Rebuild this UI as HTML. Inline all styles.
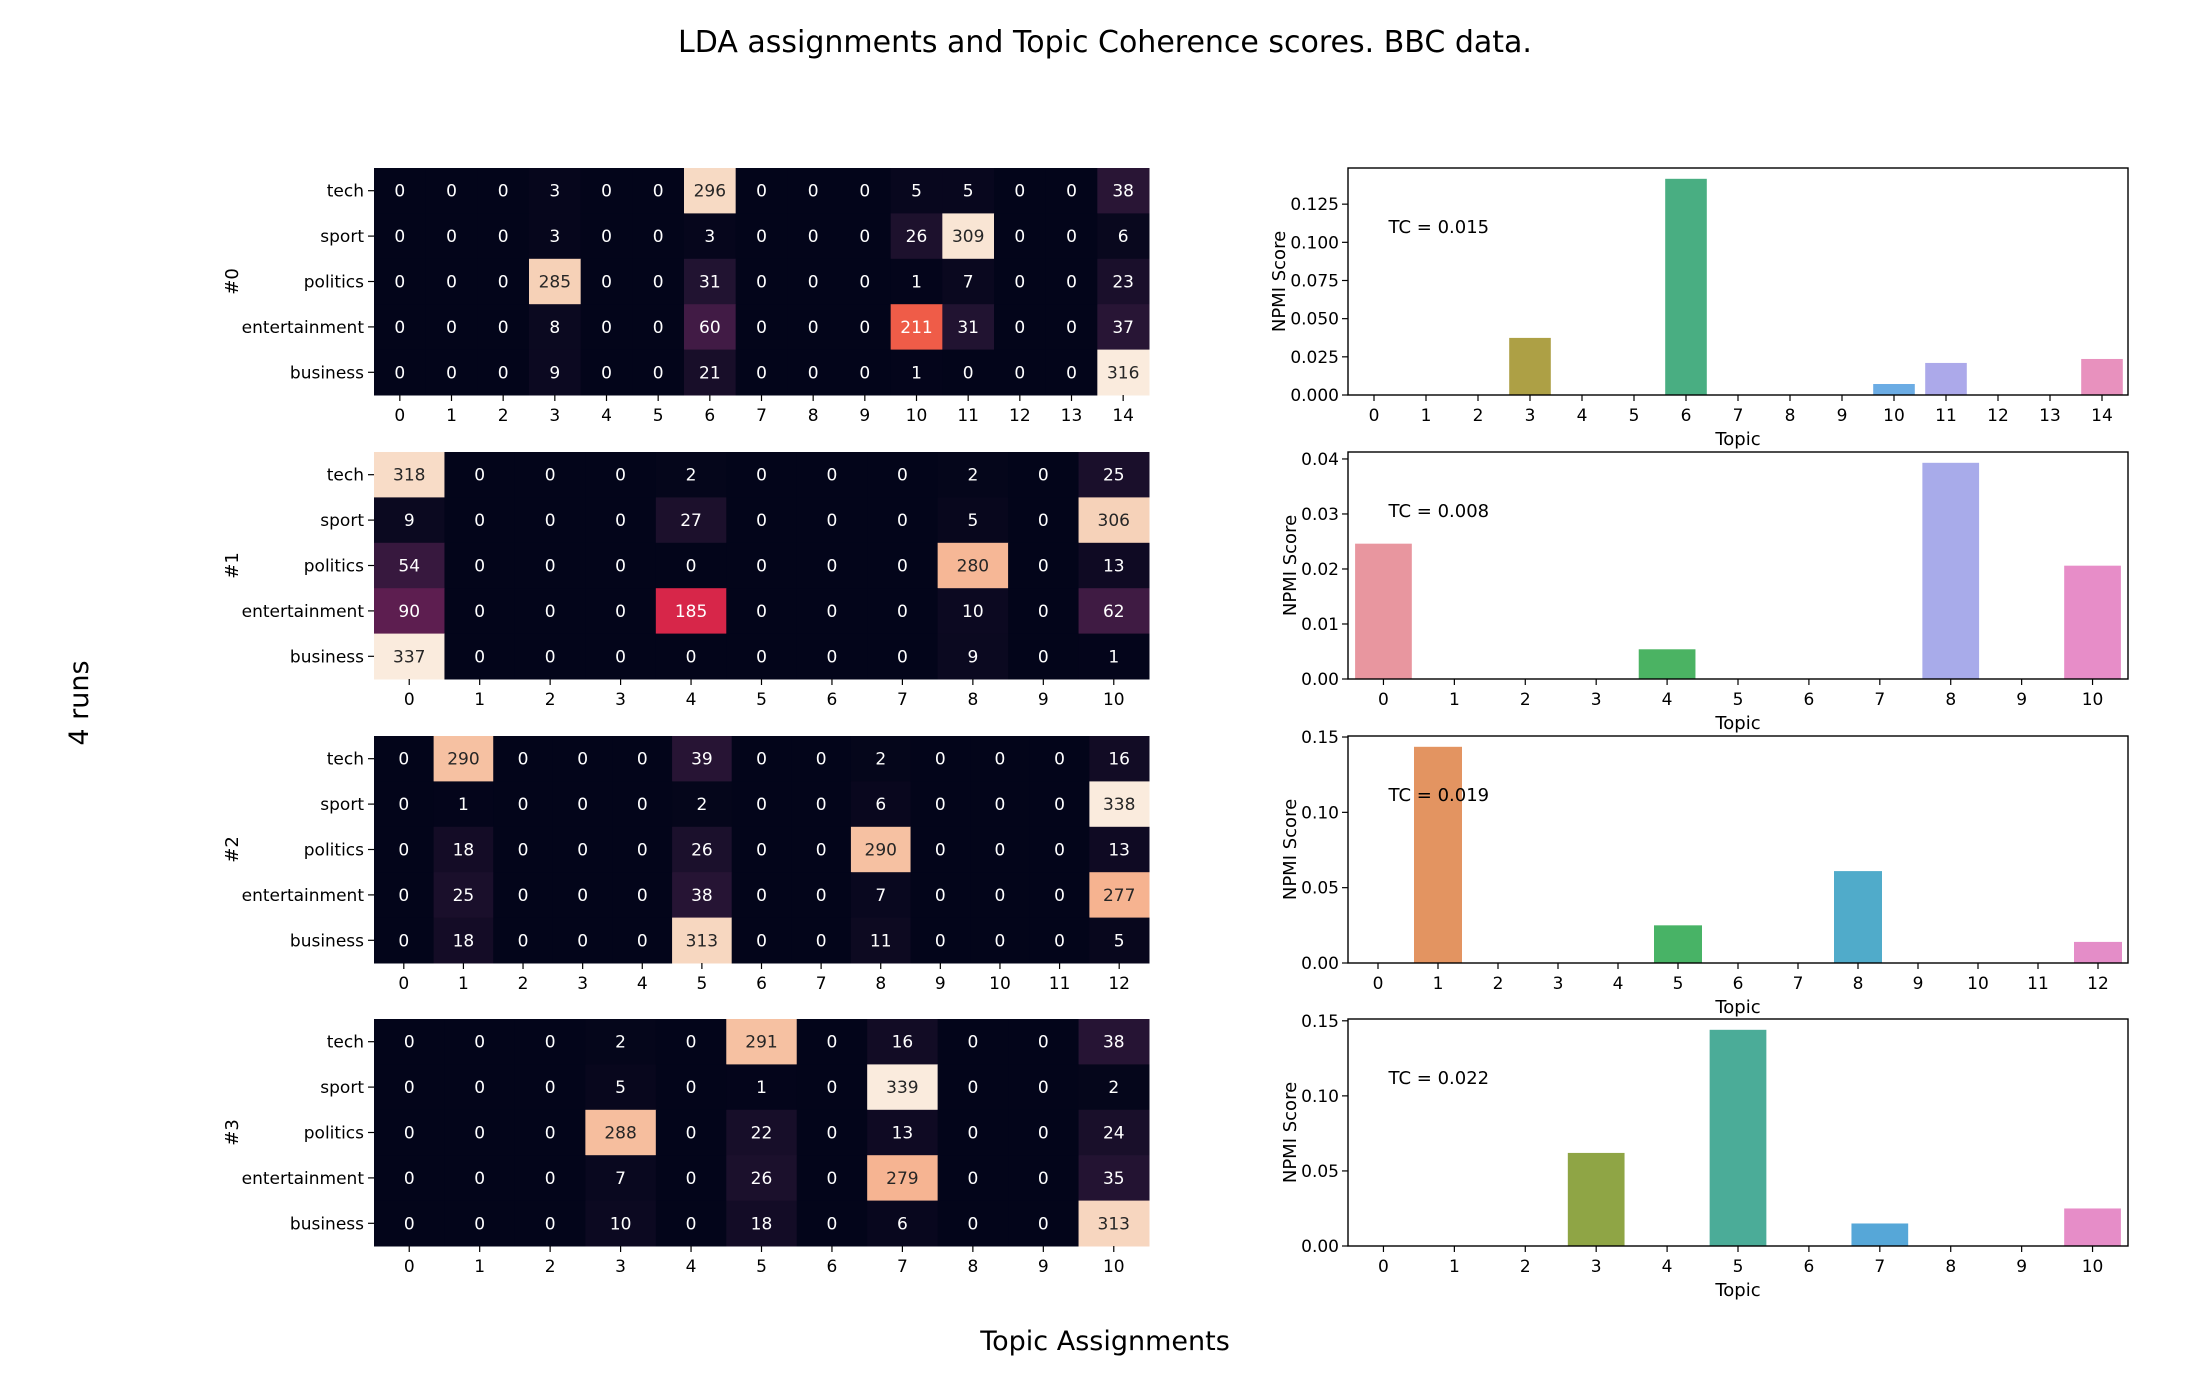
<!DOCTYPE html>
<html><head><meta charset="utf-8">
<style>
html,body{margin:0;padding:0;background:#fff;}
svg{display:block;font-family:"DejaVu Sans","Liberation Sans",sans-serif;}
</style></head>
<body>
<svg id="fig" width="2200" height="1400" viewBox="0 0 2200 1400" xmlns="http://www.w3.org/2000/svg">
<text x="1105" y="52" font-size="30" text-anchor="middle">LDA assignments and Topic Coherence scores. BBC data.</text>
<text x="0" y="0" font-size="27" text-anchor="middle" transform="translate(88,703) rotate(-90)">4 runs</text>
<text x="1105" y="1350" font-size="27" text-anchor="middle">Topic Assignments</text>
<g id="plots"></g>
</svg>
<script>
const rowLabels = ["tech","sport","politics","entertainment","business"];
const heat0 = [
 [0,0,0,3,0,0,296,0,0,0,5,5,0,0,38],
 [0,0,0,3,0,0,3,0,0,0,26,309,0,0,6],
 [0,0,0,285,0,0,31,0,0,0,1,7,0,0,23],
 [0,0,0,8,0,0,60,0,0,0,211,31,0,0,37],
 [0,0,0,9,0,0,21,0,0,0,1,0,0,0,316]];
const heat1 = [
 [318,0,0,0,2,0,0,0,2,0,25],
 [9,0,0,0,27,0,0,0,5,0,306],
 [54,0,0,0,0,0,0,0,280,0,13],
 [90,0,0,0,185,0,0,0,10,0,62],
 [337,0,0,0,0,0,0,0,9,0,1]];
const heat2 = [
 [0,290,0,0,0,39,0,0,2,0,0,0,16],
 [0,1,0,0,0,2,0,0,6,0,0,0,338],
 [0,18,0,0,0,26,0,0,290,0,0,0,13],
 [0,25,0,0,0,38,0,0,7,0,0,0,277],
 [0,18,0,0,0,313,0,0,11,0,0,0,5]];
const heat3 = [
 [0,0,0,2,0,291,0,16,0,0,38],
 [0,0,0,5,0,1,0,339,0,0,2],
 [0,0,0,288,0,22,0,13,0,0,24],
 [0,0,0,7,0,26,0,279,0,0,35],
 [0,0,0,10,0,18,0,6,0,0,313]];
const npmi0 = [0,0,0,0.0374,0,0,0.1416,0,0,0,0.0072,0.021,0,0,0.0236];
const npmi1 = [0.0246,0,0,0,0.0054,0,0,0,0.0393,0,0.0206];
const npmi2 = [0,0.1435,0,0,0,0.025,0,0,0.061,0,0,0,0.014];
const npmi3 = [0,0,0,0.062,0,0.144,0,0.015,0,0,0.025];
const tcLabels = ["TC = 0.015","TC = 0.008","TC = 0.019","TC = 0.022"];
const yTicks0 = [0,0.025,0.05,0.075,0.1,0.125];
const yTicks1 = [0,0.01,0.02,0.03,0.04];
const yTicks2 = [0,0.05,0.1,0.15];
const yTicks3 = [0,0.05,0.1,0.15];
const runLabels = ["#0","#1","#2","#3"];

const heats=[heat0,heat1,heat2,heat3], npmis=[npmi0,npmi1,npmi2,npmi3], yticks=[yTicks0,yTicks1,yTicks2,yTicks3];
const tickDec=[3,2,2,2];
const palettes=[
 {3:'#ADA045',6:'#49AE82',10:'#6BACE4',11:'#ACA9EA',14:'#E891BE'},
 {0:'#E8969F',4:'#4BB363',8:'#A8ABEA',10:'#E78DC8'},
 {1:'#E39461',5:'#48B366',8:'#50ABCA',12:'#E48DC8'},
 {3:'#8FA545',5:'#4BAC98',7:'#56A7D8',10:'#E68DC8'}];
const NS="http://www.w3.org/2000/svg";
const root=document.getElementById('plots');
function mk(tag,attrs,parent,txt){const e=document.createElementNS(NS,tag);for(const k in attrs)e.setAttribute(k,attrs[k]);if(txt!==undefined)e.textContent=txt;(parent||root).appendChild(e);return e;}
const rocketStops=[[0,[3,5,26]],[0.1,[34,19,49]],[0.2,[69,28,71]],[0.3,[105,31,85]],[0.4,[150,28,90]],[0.5,[203,27,79]],[0.6,[227,50,66]],[0.65,[238,82,66]],[0.7,[242,110,82]],[0.8,[246,172,135]],[0.9,[246,208,182]],[1,[250,235,221]]];
function rocket(t){t=Math.max(0,Math.min(1,t));for(let i=1;i<rocketStops.length;i++){if(t<=rocketStops[i][0]){const [a,ca]=rocketStops[i-1],[b,cb]=rocketStops[i];const f=(t-a)/(b-a);return ca.map((v,j)=>Math.round(v+(cb[j]-v)*f));}}return rocketStops[rocketStops.length-1][1];}
function lum(c){const l=c.map(v=>{v/=255;return v<=0.03928?v/12.92:Math.pow((v+0.055)/1.055,2.4);});return 0.2126*l[0]+0.7152*l[1]+0.0722*l[2];}
function barColor(r,i,n){return palettes[r][i]||`hsl(${(12+i*360/n)%360},55%,60%)`;}

const HX0=374,HX1=1149,BX0=1348,BX1=2128,H=227;
const tops=[168,452,736,1019];
for(let r=0;r<4;r++){
  const data=heats[r],top=tops[r],nc=data[0].length,nr=data.length;
  const cw=(HX1-HX0)/nc,ch=H/nr;
  let vmax=0;data.forEach(row=>row.forEach(v=>{if(v>vmax)vmax=v;}));
  const g=mk('g',{});
  
  
  const xs=c=>HX0+c*cw, ys=k=>top+k*ch;
  for(let k=0;k<nr;k++)for(let c=0;c<nc;c++){
    const v=data[k][c],col=rocket(v/vmax);
    const rect=mk('rect',{x:xs(c),y:ys(k),width:cw+0.5,height:ch+0.5,fill:`rgb(${col})`},g);
    
    
    const t=mk('text',{x:xs(c)+cw/2,y:ys(k)+ch/2+6,'font-size':17,'text-anchor':'middle',fill:lum(col)>0.408?'#262626':'#ffffff'},g,String(v));
    
    
  }
  for(let k=0;k<nr;k++){
    const y=ys(k)+ch/2;
    mk('line',{x1:HX0-6,x2:HX0,y1:y,y2:y,stroke:'#000','stroke-width':1.2},g);
    const t=mk('text',{x:HX0-10,y:y+6,'font-size':17,'text-anchor':'end'},g,rowLabels[k]);
    
    
  }
  for(let c=0;c<nc;c++){
    const x=xs(c)+cw/2;
    mk('line',{x1:x,x2:x,y1:top+H,y2:top+H+6,stroke:'#000','stroke-width':1.2},g);
    const t=mk('text',{x:x,y:top+H+26,'font-size':17,'text-anchor':'middle'},g,String(c));
    
    
  }
  const rl=mk('text',{x:0,y:0,'font-size':18,'text-anchor':'middle',transform:`translate(238,${top+H/2}) rotate(-90)`},g,runLabels[r]);
  
  

  const vals=npmis[r],n=vals.length,ymax=Math.max(...vals)*1.05;
  const bg=mk('g',{});
  
  
  const step=(BX1-BX0)/n;
  const bx=i=>BX0+(i+0.5)*step, by=v=>top+H-v/ymax*H;
  for(let i=0;i<n;i++){
    if(vals[i]<=0)continue;
    const b=mk('rect',{x:bx(i)-0.4*step,y:by(vals[i]),width:0.8*step,height:top+H-by(vals[i]),fill:barColor(r,i,n)},bg);
    
    
  }
  mk('rect',{x:BX0,y:top,width:BX1-BX0,height:H,fill:'none',stroke:'#000','stroke-width':1.4},bg);
  yticks[r].forEach(tv=>{
    const y=by(tv);
    mk('line',{x1:BX0-6,x2:BX0,y1:y,y2:y,stroke:'#000','stroke-width':1.2},bg);
    const t=mk('text',{x:BX0-9,y:y+6,'font-size':17,'text-anchor':'end'},bg,tv.toFixed(tickDec[r]));
    
    
  });
  for(let i=0;i<n;i++){
    const x=bx(i);
    mk('line',{x1:x,x2:x,y1:top+H,y2:top+H+6,stroke:'#000','stroke-width':1.2},bg);
    const t=mk('text',{x:x,y:top+H+26,'font-size':17,'text-anchor':'middle'},bg,String(i));
    
    
  }
  const xl=mk('text',{x:(BX0+BX1)/2,y:top+H+50,'font-size':18,'text-anchor':'middle'},bg,'Topic');
  
  
  const yl=mk('text',{x:0,y:0,'font-size':18,'text-anchor':'middle',transform:`translate(${r===0?1285:1296},${top+H/2}) rotate(-90)`},bg,'NPMI Score');
  
  
  const tc=mk('text',{x:BX0+0.052*(BX1-BX0),y:top+0.255*H+7,'font-size':18},bg,tcLabels[r]);
  
  
}
</script>
</body></html>
